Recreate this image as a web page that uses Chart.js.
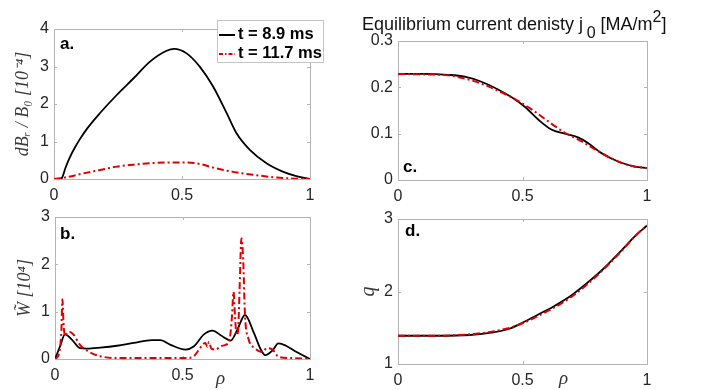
<!DOCTYPE html>
<html>
<head>
<meta charset="utf-8">
<script src="https://cdn.jsdelivr.net/npm/chart.js@4.4.1/dist/chart.umd.min.js"></script>
<style>
  body { margin: 0; background: #fff; }
  #wrap { position: relative; width: 715px; height: 390px; overflow: hidden; font-family: "Liberation Sans", Arial, sans-serif; }
  #wrap canvas { position: absolute; left: 0; top: 0; }
  .txt { position: absolute; white-space: nowrap; line-height: normal; color: #000; }
  .tag { font-weight: bold; font-size: 17px; }
  .rho { font-family: "Liberation Serif", serif; font-style: italic; font-size: 19px; color: #333; }
  #legend { position: absolute; left: 217px; top: 20px; width: 105px; height: 41px; border: 1px solid #c4c4c4; background: #fff; }
  #legend .row { position: absolute; left: 1px; font-weight: bold; font-size: 16.5px; white-space: nowrap; }
  #legend svg { vertical-align: middle; margin-right: 3px; }
  #title { font-size: 18px; color: #111; }
  #title sub { font-size: 16px; vertical-align: -8px; }
  #title sup { font-size: 16px; vertical-align: 8px; }
</style>
</head>
<body>
<div id="wrap">
  <canvas id="chart-a" width="715" height="390"></canvas>
  <canvas id="chart-b" width="715" height="390"></canvas>
  <canvas id="chart-c" width="715" height="390"></canvas>
  <canvas id="chart-d" width="715" height="390"></canvas>

  <div class="txt tag" style="left:60px;top:34px;">a.</div>
  <div class="txt tag" style="left:60px;top:224px;">b.</div>
  <div class="txt tag" style="left:403px;top:157px;">c.</div>
  <div class="txt tag" style="left:405px;top:221px;">d.</div>

  <div class="txt rho" style="left:216px;top:367px;">ρ</div>
  <div class="txt rho" style="left:559px;top:367px;">ρ</div>

  <div class="txt" id="title" style="left:362px;top:8px;">Equilibrium current denisty j&thinsp;<sub>0</sub> [MA/m<sup>2</sup>]</div>

  <div id="legend">
    <div class="row" style="top:3px;"><svg width="16" height="4"><line x1="0" y1="2" x2="16" y2="2" stroke="#000" stroke-width="2"/></svg>t = 8.9 ms</div>
    <div class="row" style="top:22px;"><svg width="16" height="4"><line x1="0" y1="2" x2="16" y2="2" stroke="#e00000" stroke-width="2" stroke-dasharray="4,2,1.5,2"/></svg>t = 11.7 ms</div>
  </div>
</div>

<script>
// panel a: dB_r / B_0
const rhoA8 = [0, 0.02, 0.03, 0.045, 0.06, 0.08, 0.1, 0.13, 0.18, 0.245, 0.31, 0.375, 0.44, 0.469, 0.518, 0.57, 0.622, 0.675, 0.713, 0.766, 0.83, 0.896, 0.95, 1];
const dBrA8 = [0, 0, 0.02, 0.3, 0.55, 0.82, 1.05, 1.35, 1.76, 2.24, 2.68, 3.13, 3.42, 3.47, 3.35, 2.99, 2.46, 1.75, 1.22, 0.77, 0.42, 0.19, 0.07, 0];
const rhoA11 = [0, 0.05, 0.115, 0.18, 0.245, 0.31, 0.375, 0.466, 0.518, 0.57, 0.635, 0.70, 0.78, 0.87, 0.94, 1];
const dBrA11 = [0, 0.05, 0.15, 0.24, 0.33, 0.38, 0.42, 0.44, 0.44, 0.40, 0.28, 0.19, 0.11, 0.04, 0.01, 0];

// panel b: W tilde
const rhoB8 = [0, 0.02, 0.039, 0.066, 0.098, 0.125, 0.177, 0.243, 0.308, 0.38, 0.413, 0.453, 0.512, 0.545, 0.584, 0.617, 0.656, 0.689, 0.715, 0.745, 0.78, 0.807, 0.824, 0.853, 0.876, 0.906, 0.94, 1];
const wB8 = [0, 0.27, 0.52, 0.41, 0.23, 0.22, 0.24, 0.28, 0.34, 0.40, 0.40, 0.30, 0.20, 0.27, 0.52, 0.60, 0.48, 0.39, 0.62, 0.93, 0.55, 0.20, 0.08, 0.18, 0.33, 0.28, 0.17, 0];
const rhoB11 = [0, 0.015, 0.025, 0.029, 0.034, 0.04, 0.048, 0.058, 0.072, 0.098, 0.131, 0.177, 0.243, 0.44, 0.518, 0.545, 0.565, 0.58, 0.59, 0.597, 0.604, 0.613, 0.63, 0.65, 0.669, 0.685, 0.694, 0.70, 0.706, 0.712, 0.718, 0.724, 0.731, 0.738, 0.745, 0.758, 0.784, 0.81, 0.833, 0.853, 0.876, 0.925, 1];
const wB11 = [0, 0.1, 0.6, 1.26, 0.7, 0.48, 0.55, 0.57, 0.52, 0.30, 0.16, 0.06, 0.02, 0.02, 0.02, 0.06, 0.2, 0.31, 0.34, 0.26, 0.36, 0.22, 0.2, 0.27, 0.3, 0.42, 0.9, 1.42, 0.9, 0.5, 0.6, 1.5, 2.55, 2.1, 0.93, 0.44, 0.23, 0.15, 0.23, 0.2, 0.05, 0.02, 0];

// panel c: j0
const rhoC8 = [0, 0.1, 0.2, 0.268, 0.335, 0.40, 0.455, 0.509, 0.562, 0.616, 0.67, 0.723, 0.763, 0.817, 0.884, 0.95, 1];
const jC8 = [0.229, 0.229, 0.227, 0.223, 0.212, 0.196, 0.179, 0.158, 0.131, 0.109, 0.100, 0.092, 0.080, 0.058, 0.040, 0.029, 0.026];
const rhoC11 = [0, 0.1, 0.2, 0.268, 0.335, 0.40, 0.468, 0.535, 0.602, 0.67, 0.736, 0.803, 0.884, 0.95, 1];
const jC11 = [0.229, 0.228, 0.226, 0.219, 0.208, 0.193, 0.175, 0.153, 0.127, 0.102, 0.084, 0.062, 0.040, 0.029, 0.026];

// panel d: q
const rhoD = [0, 0.154, 0.288, 0.382, 0.45, 0.503, 0.556, 0.623, 0.69, 0.757, 0.824, 0.89, 0.957, 1];
const qD8 = [1.39, 1.39, 1.40, 1.436, 1.49, 1.575, 1.67, 1.79, 1.93, 2.11, 2.31, 2.54, 2.78, 2.91];
const qD11 = [1.39, 1.39, 1.41, 1.45, 1.50, 1.565, 1.65, 1.77, 1.91, 2.09, 2.30, 2.53, 2.78, 2.91];

const xTicks = [0, 0.5, 1];

const TICK_FONT = { family: 'Liberation Sans', size: 16 };
const TICK_COLOR = '#262626';
const FRAME_COLOR = '#b4b4b4';

// matlab-style box with inward ticks
const boxFrame = {
    id: 'boxFrame',
    beforeDatasetsDraw(chart) {
        const { ctx, chartArea: a, scales } = chart;
        ctx.save();
        ctx.strokeStyle = FRAME_COLOR;
        ctx.lineWidth = 1;
        ctx.strokeRect(a.left + 0.5, a.top + 0.5, a.right - a.left, a.bottom - a.top);
        ctx.beginPath();
        scales.x.ticks.forEach(t => {
            const px = Math.round(scales.x.getPixelForValue(t.value)) + 0.5;
            ctx.moveTo(px, a.bottom); ctx.lineTo(px, a.bottom - 3);
            ctx.moveTo(px, a.top); ctx.lineTo(px, a.top + 3);
        });
        scales.y.ticks.forEach(t => {
            const py = Math.round(scales.y.getPixelForValue(t.value)) + 0.5;
            ctx.moveTo(a.left, py); ctx.lineTo(a.left + 3, py);
            ctx.moveTo(a.right, py); ctx.lineTo(a.right - 3, py);
        });
        ctx.stroke();
        ctx.restore();
    }
};

function series(xs, ys, color, dashed) {
    return {
        data: xs.map((x, i) => ({ x: x, y: ys[i] })),
        borderColor: color,
        borderWidth: dashed ? 2 : 1.8,
        borderDash: dashed ? [7, 3, 2, 3] : [],
        pointRadius: 0,
        fill: false,
        cubicInterpolationMode: 'monotone',
        order: dashed ? 0 : 1
    };
}

function fmt(v) {
    return String(Number(v.toFixed(2)));
}

// area = chart area in page px, yw = y axis width
function makePanel(id, area, yAxis, datasets, yTitle) {
    const xh = 26;
    const padLeft = area.left - area.yw;
    new Chart(document.getElementById(id), {
        type: 'line',
        data: { datasets: datasets },
        options: {
            responsive: false,
            animation: false,
            devicePixelRatio: 1,
            layout: {
                padding: { left: padLeft, top: area.top, right: 715 - area.right, bottom: 390 - area.bottom - xh }
            },
            plugins: { legend: { display: false }, tooltip: { enabled: false } },
            scales: {
                x: {
                    type: 'linear',
                    min: 0, max: 1,
                    afterBuildTicks: s => { s.ticks = xTicks.map(v => ({ value: v })); },
                    afterFit: s => { s.height = xh; },
                    grid: { display: false, drawTicks: false },
                    border: { display: false },
                    ticks: { font: TICK_FONT, color: TICK_COLOR, padding: 7, callback: fmt, maxRotation: 0 }
                },
                y: {
                    type: 'linear',
                    min: yAxis.min, max: yAxis.max,
                    afterBuildTicks: s => { s.ticks = yAxis.ticks.map(v => ({ value: v })); },
                    afterFit: s => { s.width = area.yw; },
                    grid: { display: false, drawTicks: false },
                    border: { display: false },
                    ticks: { font: TICK_FONT, color: TICK_COLOR, padding: 5, callback: fmt },
                    title: yTitle ? {
                        display: true,
                        text: yTitle.text,
                        color: '#3a3a3a',
                        font: { family: 'Liberation Serif', style: 'italic', size: yTitle.size },
                        padding: { top: yTitle.pad, bottom: 0 }
                    } : { display: false }
                }
            }
        },
        plugins: [boxFrame]
    });
}

makePanel('chart-a', { left: 54, top: 29, right: 310, bottom: 179, yw: 54 },
    { min: 0, max: 4, ticks: [0, 1, 2, 3, 4] },
    [series(rhoA8, dBrA8, '#000000', false), series(rhoA11, dBrA11, '#e00000', true)],
    { text: 'dBᵣ / B₀ [10⁻⁴]', size: 18, pad: 12 });

makePanel('chart-b', { left: 55, top: 217, right: 310, bottom: 359, yw: 55 },
    { min: 0, max: 3, ticks: [0, 1, 2, 3] },
    [series(rhoB8, wB8, '#000000', false), series(rhoB11, wB11, '#e00000', true)],
    { text: 'W̃ [10⁴]', size: 18, pad: 14 });

makePanel('chart-c', { left: 398, top: 41, right: 647, bottom: 180, yw: 43 },
    { min: 0, max: 0.3, ticks: [0, 0.1, 0.2, 0.3] },
    [series(rhoC8, jC8, '#000000', false), series(rhoC11, jC11, '#e00000', true)],
    null);

makePanel('chart-d', { left: 398, top: 219, right: 647, bottom: 364, yw: 43 },
    { min: 1, max: 3, ticks: [1, 2, 3] },
    [series(rhoD, qD8, '#000000', false), series(rhoD, qD11, '#e00000', true)],
    { text: 'q', size: 20, pad: 2 });
</script>
</body>
</html>
